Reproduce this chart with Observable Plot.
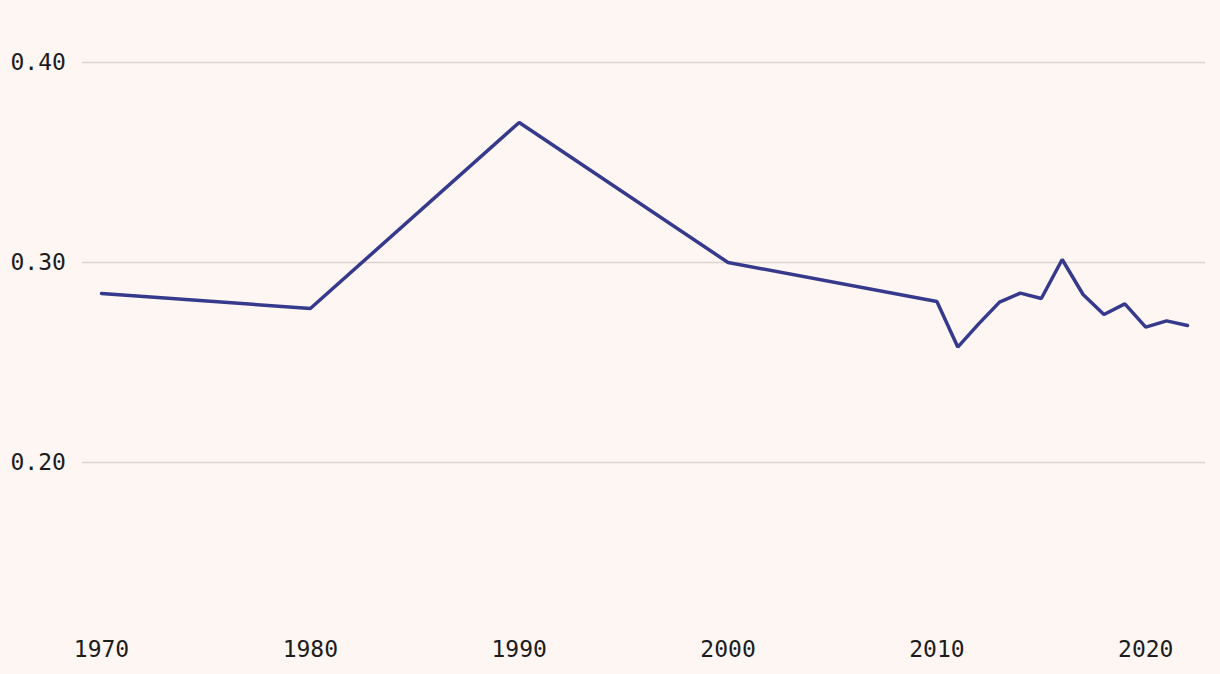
<!DOCTYPE html>
<html>
<head>
<meta charset="utf-8">
<script src="https://cdn.jsdelivr.net/npm/d3@7"></script>
<script src="https://cdn.jsdelivr.net/npm/@observablehq/plot@0.6"></script>
<style>
  html, body { margin: 0; padding: 0; background: #fdf6f3; }
  #chart svg { display: block; }
</style>
</head>
<body>
<div id="chart"></div>
<script>
const years = [1970, 1980, 1990, 2000, 2010, 2011, 2012, 2013, 2014, 2015, 2016, 2017, 2018, 2019, 2020, 2021, 2022];
const values = [0.2845, 0.277, 0.370, 0.300, 0.2805, 0.2577, 0.2693, 0.2802, 0.2847, 0.282, 0.3015, 0.284, 0.274, 0.2793, 0.2677, 0.2708, 0.2685];
const xTicks = [1970, 1980, 1990, 2000, 2010, 2020];
const yTicks = [0.20, 0.30, 0.40];

const data = years.map((year, i) => ({year, value: values[i]}));

const chart = Plot.plot({
  width: 1220,
  height: 674,
  marginTop: 22,
  marginBottom: 52,
  marginLeft: 82,
  marginRight: 15,
  style: {
    background: "#fdf6f3",
    fontFamily: "'DejaVu Sans Mono', monospace",
    fontSize: "23px",
    color: "#1c1c1c"
  },
  x: {domain: [1970, 2022], insetLeft: 19, insetRight: 18},
  y: {domain: [0.12, 0.42]},
  marks: [
    Plot.ruleY(yTicks, {stroke: "#ddd2ce", strokeWidth: 1.3}),
    Plot.axisX({ticks: xTicks, tickFormat: d3.format("d"), tickSize: 0, tickPadding: 18, label: null, fontSize: 23, fontWeight: 300}),
    Plot.axisY({ticks: yTicks, tickFormat: d3.format(".2f"), tickSize: 0, tickPadding: 72, textAnchor: "start", label: null, fontSize: 23, fontWeight: 300}),
    Plot.line(data, {x: "year", y: "value", stroke: "#363a8c", strokeWidth: 3.5, strokeLinejoin: "miter"})
  ]
});
document.getElementById("chart").appendChild(chart);
</script>
</body>
</html>
